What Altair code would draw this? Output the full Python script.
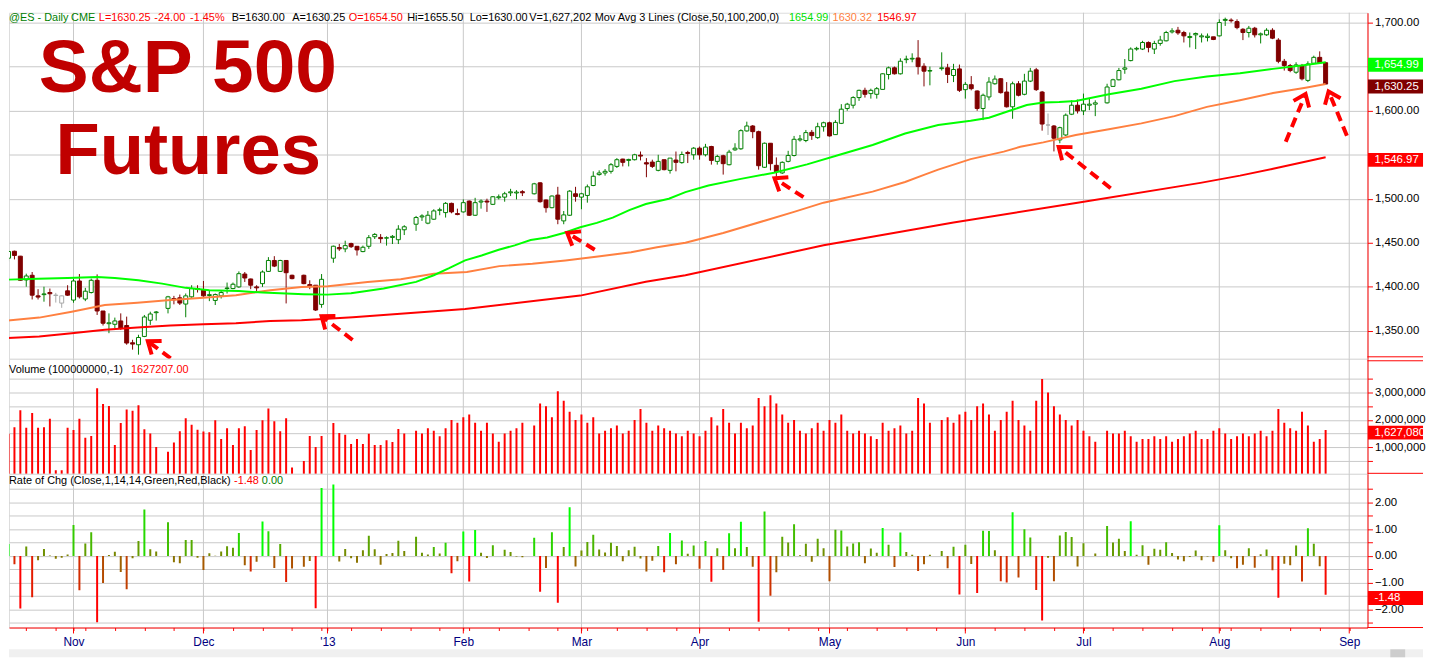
import math
import json
import datetime as dt
import altair as alt
import pandas as pd

# ---------------- data ----------------
OPEN = [
 1432.4,1440.3,1434.7,1407.7,1413.0,1389.6,1391.0,1393.4,1390.0,1381.4,
 1395.3,1384.8,1406.5,1386.0,1393.4,1407.3,1372.4,1358.0,1357.3,1361.1,
 1355.9,1336.3,1334.1,1343.5,1361.9,1370.5,None,1375.4,1386.6,1387.4,
 1380.3,1388.5,1397.9,1396.0,1390.0,1384.4,1389.6,1398.0,1397.9,1399.8,
 1414.4,1408.8,1399.8,1403.5,1417.4,1429.8,1417.4,1429.8,1413.0,None,
 1413.0,1402.4,1401.7,1379.9,None,1432.4,1444.5,1443.0,1449.0,1445.9,
 1439.9,1445.9,1456.8,1456.0,1455.2,1456.0,1453.4,1464.7,None,1471.0,
 1479.3,1472.2,1476.7,1486.8,1484.2,1494.7,1483.1,1485.0,1497.3,1481.2,
 1496.2,1497.3,1493.6,1501.1,1501.8,1506.7,1506.5,1508.0,None,1505.6,
 1518.0,1498.5,1489.8,1504.1,1474.8,1481.2,1505.6,1501.8,1503.7,1515.0,
 1527.4,1529.2,1531.1,1536.7,1545.0,1543.5,1544.3,1549.5,1540.9,1541.6,
 1532.2,1544.3,1532.2,1543.9,1541.0,1552.5,1549.9,1557.4,1549.9,1559.3,
 1542.4,1548.8,1538.6,1555.5,1556.7,1577.0,1582.6,1576.2,1535.7,1563.0,
 1537.9,1529.3,1542.4,1549.1,1566.8,1566.1,1575.4,1569.4,1581.8,1586.3,
 1572.8,1585.6,1602.5,1606.2,1614.9,1623.1,1619.4,1618.6,1624.2,1641.1,
 1648.7,1641.9,1658.0,1658.7,1659.9,1650.5,1645.0,None,1647.8,1648.7,
 1640.0,1647.5,1623.9,1629.5,1622.4,1602.5,1615.6,1630.6,1636.3,1621.2,
 1604.4,1630.6,1618.6,1633.6,1646.4,1621.2,1583.7,1582.6,1566.8,1572.4,
 1596.0,1606.2,1599.8,1606.2,1607.4,None,1608.9,1627.6,1635.1,1647.1,
 1656.9,1670.0,1670.0,1677.5,1670.0,1676.4,1679.4,1689.5,1691.4,1688.8,
 1683.1,1686.2,1683.9,1683.1,1683.9,1685.0,1702.6,1702.9,1701.2,1692.5,
 1688.8,1693.7,1686.2,1686.2,1691.4,1680.2,1656.1,1651.3,1643.7,1651.3,
 1634.4,1653.9,1660.6,1654.5,
]
HIGH = [
 1441.1,1441.0,1435.0,1414.8,1416.7,1397.2,1400.0,1397.9,1393.0,1390.0,
 1401.7,1409.2,1414.4,1398.7,1409.2,1414.0,1372.4,1369.7,1364.9,1369.7,
 1366.0,1339.7,1345.4,1367.9,1371.6,1372.4,None,1389.6,1389.6,1391.1,
 1392.3,1401.7,1401.7,1406.5,1396.0,1392.3,1396.0,1404.7,1404.7,1417.4,
 1416.7,1409.2,1401.7,1418.5,1433.6,1434.7,1430.6,1430.0,1413.7,None,
 1413.7,1407.3,1401.7,1414.4,None,1446.7,1448.6,1452.3,1450.0,1445.9,
 1446.7,1458.7,1460.9,1459.8,1457.2,1458.7,1469.9,1469.9,None,1480.4,
 1482.3,1486.0,1488.0,1489.8,1496.2,1495.5,1488.7,1499.2,1498.0,1501.0,
 1499.2,1500.0,1503.0,1504.8,1507.8,1511.2,1509.7,1509.7,None,1518.0,
 1518.7,1499.2,1503.7,1513.5,1486.0,1509.7,1513.5,1506.7,1516.1,1531.1,
 1532.2,1533.7,1540.5,1546.1,1545.4,1545.4,1551.0,1553.6,1546.1,1544.3,
 1549.9,1544.3,1546.1,1553.6,1553.6,1554.4,1558.6,1559.3,1562.3,1560.1,
 1549.9,1549.9,1555.5,1563.0,1578.8,1587.5,1583.7,1577.3,1563.8,1563.0,
 1546.9,1542.4,1554.4,1571.3,1572.4,1578.1,1578.1,1586.3,1587.5,1587.5,
 1589.3,1607.4,1608.9,1616.4,1623.9,1626.1,1625.0,1626.9,1642.6,1650.1,
 1650.1,1659.5,1662.5,1665.2,1680.2,1653.9,1650.1,None,1666.3,1653.2,
 1653.2,1652.4,1632.5,1639.3,1623.1,1619.4,1638.1,1640.0,1637.0,1632.5,
 1633.0,1633.6,1641.9,1648.6,1648.6,1622.4,1596.8,1583.7,1581.8,1596.8,
 1611.8,1612.6,1619.4,1613.7,1611.8,None,1630.6,1636.3,1648.6,1658.7,
 1671.9,1672.6,1679.4,1678.7,1679.4,1685.0,1690.7,1693.7,1695.2,1690.7,
 1688.8,1688.8,1687.7,1687.7,1683.9,1703.8,1705.7,1704.9,1703.8,1693.7,
 1696.3,1695.2,1688.8,1693.7,1693.7,1682.4,1658.8,1653.1,1655.0,1653.1,
 1656.1,1662.5,1667.4,1655.5,
]
LOW = [
 1428.7,1431.0,1406.5,1400.0,1385.5,1385.5,1383.0,1377.6,1382.0,1376.0,
 1389.6,1381.8,1386.6,1383.6,1392.3,1367.9,1355.9,1347.2,1352.9,1351.0,
 1334.1,1328.5,1322.8,1342.7,1356.6,1361.5,None,1369.7,1380.0,1379.2,
 1365.3,1387.4,1393.4,1388.5,1383.6,1379.2,1386.6,1392.3,1397.2,1398.7,
 1405.4,1397.2,1394.2,1399.8,1416.7,1422.3,1416.7,1381.0,1408.4,None,
 1402.8,1397.2,1372.4,1376.1,None,1427.2,1440.7,1439.2,1444.0,1435.4,
 1439.2,1442.9,1454.2,1449.7,1446.7,1448.5,1448.5,1458.7,None,1463.5,
 1474.8,1471.0,1476.0,1481.2,1478.6,1483.4,1481.2,1484.2,1480.4,1480.4,
 1488.7,1485.0,1492.8,1499.2,1496.6,1503.0,1499.2,1503.0,None,1504.8,
 1495.5,1484.2,1489.1,1471.0,1471.0,1480.4,1496.6,1488.0,1495.5,1514.2,
 1526.2,1526.2,1528.5,1534.9,1536.7,1536.7,1543.5,1543.5,1524.4,1534.9,
 1531.1,1532.2,1528.5,1531.1,1539.8,1540.5,1544.3,1544.3,1548.0,1538.7,
 1538.7,1527.4,1537.9,1554.4,1555.5,1576.2,1568.7,1533.0,1534.9,1532.2,
 1524.8,1528.1,1541.3,1548.0,1564.9,1564.2,1566.8,1568.0,1576.2,1570.6,
 1572.4,1584.8,1599.9,1602.5,1611.1,1614.9,1613.7,1613.7,1623.9,1635.5,
 1641.1,1641.1,1653.9,1655.0,1641.1,1627.6,1628.8,None,1645.6,1631.4,
 1632.5,1621.2,1613.7,1623.1,1599.9,1589.3,1611.8,1629.5,1619.4,1603.6,
 1590.8,1616.3,1617.5,1632.5,1622.4,1577.3,1572.4,1553.7,1563.0,1571.3,
 1595.0,1596.8,1595.0,1600.6,1593.8,None,1608.1,1626.9,1634.4,1641.9,
 1656.1,1668.2,1668.9,1666.3,1664.4,1673.8,1678.7,1687.7,1686.2,1677.5,
 1671.9,1670.0,1677.5,1678.7,1680.2,1684.3,1696.3,1700.1,1692.5,1680.2,
 1683.2,1683.2,1676.4,1685.0,1681.3,1653.9,1645.6,1643.7,1641.9,1634.4,
 1632.5,1653.1,1655.0,1630.0,
]
CLOSE = [
 1440.0,1435.5,1407.3,1412.2,1390.4,1388.2,1391.8,1392.0,1390.5,1389.6,
 1390.4,1406.5,1388.5,1394.9,1407.3,1372.4,1358.5,1359.0,1361.1,1352.9,
 1336.0,1334.8,1342.3,1365.6,1369.0,1371.3,None,1388.5,1385.2,1381.4,
 1389.6,1397.9,1396.9,1389.6,1391.0,1391.1,1393.4,1398.5,1402.8,1414.8,
 1409.9,1401.7,1398.7,1416.7,1429.8,1423.4,1429.8,1415.9,1409.2,None,
 1403.5,1400.9,1373.5,1408.4,None,1446.0,1443.0,1446.7,1445.5,1441.8,
 1444.8,1455.7,1459.4,1454.6,1455.6,1457.2,1465.4,1468.1,None,1478.6,
 1480.4,1481.2,1486.1,1487.4,1494.7,1485.0,1482.0,1495.5,1481.2,1495.5,
 1497.3,1496.2,1502.2,1502.2,1505.6,1507.8,1507.5,1506.7,None,1516.9,
 1496.6,1489.8,1503.0,1476.7,1481.6,1508.6,1502.6,1505.6,1513.5,1525.5,
 1529.2,1531.1,1538.6,1544.3,1541.3,1544.6,1549.9,1548.4,1539.4,1536.7,
 1542.4,1533.0,1546.1,1541.3,1550.2,1551.4,1557.4,1549.9,1558.6,1543.5,
 1548.0,1539.8,1552.9,1557.4,1577.3,1582.6,1576.2,1537.5,1563.0,1539.8,
 1530.4,1541.3,1549.1,1567.5,1567.9,1575.1,1571.7,1581.8,1586.3,1571.3,
 1586.7,1601.7,1607.4,1614.9,1623.1,1618.6,1623.1,1625.0,1641.9,1648.7,
 1641.9,1656.2,1658.7,1659.5,1650.1,1644.9,1645.6,None,1648.7,1641.1,
 1646.8,1623.1,1629.9,1625.0,1602.5,1617.5,1632.5,1635.9,1620.5,1604.4,
 1630.6,1617.5,1633.6,1644.9,1623.9,1584.8,1583.7,1568.7,1580.7,1594.9,
 1606.2,1599.8,1607.4,1607.4,1608.9,None,1626.9,1635.1,1645.6,1648.6,
 1670.0,1670.8,1677.5,1671.9,1676.4,1680.2,1688.8,1690.7,1688.4,1685.0,
 1684.3,1687.7,1685.0,1684.6,1680.9,1700.1,1703.7,1702.2,1694.4,1688.8,
 1693.7,1686.2,1687.3,1691.4,1682.4,1656.1,1651.3,1645.6,1652.0,1636.2,
 1653.1,1660.6,1654.25,1630.25,
]
# daily volume, millions of contracts (None = holiday slot)
VOLUME_M = [
 1.49,1.73,2.35,1.71,2.25,1.71,1.73,2.04,0.16,0.16,
 1.71,1.63,2.04,1.35,1.41,3.16,2.58,2.51,1.08,1.89,
 2.38,2.34,2.54,1.66,1.50,1.01,None,0.84,1.17,1.59,
 2.06,1.82,1.64,1.58,1.55,1.99,1.30,1.70,1.08,1.70,
 1.77,0.90,1.63,1.99,2.42,1.95,1.59,2.06,0.26,None,
 0.50,1.41,1.01,1.41,None,1.89,1.52,1.46,1.12,1.30,
 1.12,1.49,1.08,1.08,1.26,1.19,1.67,1.50,None,1.60,
 1.50,1.70,1.60,1.40,1.70,2.00,1.90,2.10,2.20,1.90,
 1.60,1.90,1.50,1.20,1.50,1.60,1.70,1.90,None,1.80,
 2.60,2.50,2.10,3.05,2.70,2.30,2.00,2.20,1.90,2.10,
 1.50,1.60,1.70,1.80,1.50,1.60,2.00,2.40,1.90,1.60,
 1.80,1.70,1.60,1.50,1.40,1.60,1.50,1.40,1.60,2.10,
 1.80,2.40,1.90,1.50,1.90,1.70,1.80,2.80,2.50,2.90,
 2.60,2.20,1.90,2.00,1.60,1.50,1.70,1.90,1.60,2.00,
 1.90,2.20,1.60,1.50,1.60,1.50,1.40,1.30,1.90,1.60,
 1.70,1.80,1.50,1.60,2.80,2.60,1.90,None,2.00,2.10,
 1.90,2.20,2.30,2.00,2.50,2.60,2.20,1.60,2.00,2.30,
 2.70,2.00,1.80,1.60,2.70,3.50,3.00,2.50,2.20,2.00,
 1.80,2.00,1.60,1.40,1.20,None,1.60,1.50,1.50,1.60,
 1.40,1.20,1.30,1.30,1.40,1.30,1.40,1.20,1.30,1.40,
 1.50,1.60,1.30,1.30,1.60,1.70,1.50,1.30,1.40,1.50,
 1.40,1.50,1.60,1.40,1.60,2.40,1.90,1.70,1.60,2.30,
 1.80,1.20,1.30,1.63,
]
GRAY_BARS = [8, 9, 176]
ROC_FIRST = 0.45          # rate of change of the first bar (its prior close is off-chart)

MA50 = [(-0.4,1408),(5,1409),(10,1410),(15,1411),(18,1410),(22,1407.3),(26,1403.5),(30,1398.7),
        (34,1396),(39,1395),(43,1393.4),(47,1392.3),(50,1391.5),(54,1391),(58,1392.5),(63.5,1398),
        (69,1405.5),(72,1413),(74.6,1421),(77.3,1430),(80.1,1435.5),(83,1442),(85.7,1447),(88.4,1453),
        (91.2,1456),(94,1461),(96.8,1467.5),(99.6,1472.5),(102.3,1478.5),(105.1,1487),(107.9,1494),
        (111.8,1500),(114.6,1507.5),(118.5,1515),(124,1522.5),(129.6,1529.5),(135.2,1539),
        (140.7,1550),(146.3,1561),(151.8,1574),(157.4,1583.7),(162.9,1588.6),(166,1592),(170,1601),
        (172.4,1606.5),(175.2,1609.2),(177.9,1609.8),(180.7,1611.1),(186.3,1618.6),(191.8,1625),
        (197.4,1633.6),(202.9,1638.9),(208.5,1642.6),(214.1,1647.5),(219.6,1652),(223,1655)]
MA100 = [(-0.4,1361.5),(5.2,1364.9),(10.7,1371.6),(16.3,1379.2),(21.8,1381.8),(27.4,1384.8),
         (33,1387.4),(38.5,1390.4),(44.3,1396),(49.6,1399.7),(54.1,1400.5),(60.8,1405.4),
         (66.4,1408.4),(72,1414.7),(77.6,1416.6),(83.1,1423.4),(88.7,1426),(94.3,1429.8),
         (99.8,1434.3),(105.4,1439.1),(109.8,1444.8),(114.6,1450),(121,1461),(128,1475),(133,1485),
         (138,1495.5),(146.3,1508),(151.8,1519),(155,1527),(157.4,1533),(162.9,1545),(168.5,1553.5),
         (171.3,1559),(175.2,1564),(180.7,1572.4),(186.3,1578.8),(191.8,1585.6),(197.4,1593.8),
         (202.9,1604.3),(208.5,1611.8),(214.1,1620.1),(219.6,1626.1),(223,1630.3)]
MA200 = [(-0.4,1341.6),(5.2,1343.5),(10.7,1347.2),(16.3,1351),(21.8,1353.6),(27.4,1355.9),
         (33,1357.4),(38.5,1358.5),(44.3,1361.1),(49.6,1362),(55.4,1364.1),(58.3,1365.3),
         (77.3,1374.8),(96.8,1389.9),(107.9,1405.7),(114.6,1413),(138,1447),(160,1473),
         (181,1495.5),(201.8,1518),(208.5,1526.2),(214.1,1534),(223,1547)]

MONTH_LABELS = ["Nov", "Dec", "'13", "Feb", "Mar", "Apr", "May", "Jun", "Jul", "Aug", "Sep"]

HEADER = [("@ES - Daily", 1.4, "#008000"), ("CME", 64, "#008000"), ("L=1630.25", 92, "#FF0000"),
          ("-24.00", 148, "#FF0000"), ("-1.45%", 184, "#FF0000"), ("B=1630.00", 226, "#000000"),
          ("A=1630.25", 287, "#000000"), ("O=1654.50", 344, "#FF0000"), ("Hi=1655.50", 403, "#000000"),
          ("Lo=1630.00", 466, "#000000"), ("V=1,627,202", 526, "#000000"),
          ("Mov Avg 3 Lines (Close,50,100,200,0)", 592, "#000000"),
          ("1654.99", 788, "#00E000"), ("1630.32", 832, "#FF8040"), ("1546.97", 877, "#FF0000")]

# annotation arrows: (tail bar, tail price, head bar, head price)
ARROWS = [(29.6, 1308.0, 23.58, 1338.0), (58.25, 1339.5, 53.0, 1366.6), (99.25, 1442.0, 94.6, 1461.2),
          (134.6, 1501.7, 129.7, 1523.1), (186.6, 1511.9, 177.8, 1558.8), (216.25, 1564.8, 219.6, 1618.9),
          (226.6, 1571.6, 223.5, 1621.9)]

PRICE_TAGS = [(1654.99, "1,654.99", "#00FF00"), (1630.25, "1,630.25", "#800000"), (1546.97, "1,546.97", "#FF0000")]
VOL_TAG = (1627080, "1,627,080", "#FF0000")
ROC_TAG = (-1.48, "-1.48", "#FF0000")

# ---------------- layout ----------------
FONT = "Liberation Sans"
W = 1370
H_P, H_V, H_R = 349, 116, 155
XDOM = [0.9167, 0.9167 + W / 6.0]
PDOM = [1318.1, 1711.3]
VDOM = [29000, 4236000]
RDOM = [-2.674, 3.067]
GRID = "#C8C8C8"
RED = "#FF0000"

# weekday slots (Good Friday 2013 has no slot)
slots = []
d = dt.date(2012, 10, 17)
while d <= dt.date(2013, 9, 6):
    if d.weekday() < 5 and d != dt.date(2013, 3, 29):
        slots.append(d)
    d += dt.timedelta(days=1)
assert len(OPEN) == len(HIGH) == len(LOW) == len(CLOSE) == len(VOLUME_M) == 224
month_idx, seen = [], set()
for k, dd in enumerate(slots):
    if (dd.year, dd.month) not in seen:
        seen.add((dd.year, dd.month))
        if k > 0:
            month_idx.append(k)
month_idx = month_idx[:len(MONTH_LABELS)]
monday_idx = [k for k, dd in enumerate(slots) if dd.weekday() == 0 and k < XDOM[1]]
tick_vals = sorted(set(monday_idx + month_idx))

# ---------------- frames ----------------
rows, vrows, rrows = [], [], []
prev = None
rocs = []
for i in range(224):
    if CLOSE[i] is None:
        continue
    gray = i in GRAY_BARS
    up = CLOSE[i] >= OPEN[i]
    stroke = "#A8A8A8" if gray else ("#008000" if up else "#800000")
    fill = "#FFFFFF" if (gray or up) else "#800000"
    rows.append(dict(i=i, o=OPEN[i], h=HIGH[i], l=LOW[i], c=CLOSE[i], stroke=stroke, fill=fill))
    if VOLUME_M[i] is not None:
        vrows.append(dict(i=i, v=VOLUME_M[i] * 1e6))
    r = ROC_FIRST if prev is None else (CLOSE[i] - prev) / prev * 100.0
    prev = CLOSE[i]
    rocs.append((i, r))
for k, (i, r) in enumerate(rocs):
    window = [abs(x[1]) for x in rocs[max(0, k - 13):k + 1]]
    m = max(window) or 1.0
    t = (r / m + 1) / 2
    col = "#%02x%02x00" % (round(255 * (1 - t)), round(255 * t))
    rrows.append(dict(i=i, r=r, col=col))
cdf = pd.DataFrame(rows)
vdf = pd.DataFrame(vrows)
rdf = pd.DataFrame(rrows)
mdf = pd.DataFrame({"i": month_idx})
ma_rows = []
for name, pts, col in (("ma200", MA200, "#FF0000"), ("ma100", MA100, "#FF8040"), ("ma50", MA50, "#00FF00")):
    for i, v in pts:
        ma_rows.append(dict(s=name, i=i, v=v, col=col))
madf = pd.DataFrame(ma_rows)

ppx = H_P / (PDOM[1] - PDOM[0])
arows = []
for ti, tp, hi, hp in ARROWS:
    dx = (hi - ti) * 6.0
    dy = -(hp - tp) * ppx
    ang = (math.degrees(math.atan2(dy, dx)) - 180.0) % 360.0
    arows.append(dict(ti=ti, tp=tp, hi=hi, hp=hp, ang=ang))
adf = pd.DataFrame(arows)


def tag_frame(tags, units_per_px):
    out = []
    for v, lab, bg in tags:
        yc = v - 2.5 * units_per_px
        out.append(dict(ym=yc, y1=yc + 7 * units_per_px, y2=yc - 7 * units_per_px, label=lab, bg=bg))
    return pd.DataFrame(out)


ptag = tag_frame(PRICE_TAGS, 1 / ppx)
vtag = tag_frame([VOL_TAG], (VDOM[1] - VDOM[0]) / H_V)
rtag = tag_frame([ROC_TAG], (RDOM[1] - RDOM[0]) / H_R)
ONE = pd.DataFrame({"k": [0]})

# ---------------- encodings ----------------
XS = alt.Scale(domain=XDOM, nice=False, zero=False)
X = alt.X("i:Q", scale=XS, axis=None)
mi = json.dumps(month_idx)
lab_expr = "indexof(%s, datum.value) >= 0 ? %s[indexof(%s, datum.value)] : ''" % (mi, json.dumps(MONTH_LABELS), mi)
XB = alt.X("i:Q", scale=XS, axis=alt.Axis(values=tick_vals, labelExpr=lab_expr, title=None, grid=False,
                                          domainColor=RED, domainWidth=1, tickColor=RED, tickSize=3,
                                          labelColor="#000080", labelFontSize=12, labelFont=FONT,
                                          labelPadding=6, labelOverlap=False, labelFlush=False, labelBound=False))


def raxis(values, fmt=None, expr=None):
    kw = dict(orient="right", values=values, title=None, grid=True, gridColor=GRID, gridWidth=1,
              domainColor=RED, domainWidth=1, tickColor=RED, tickSize=5, labelColor="#000000",
              labelFontSize=11.5, labelFont=FONT, labelPadding=2, labelOverlap=False)
    if fmt:
        kw["format"] = fmt
    if expr:
        kw["labelExpr"] = expr
    return alt.Axis(**kw)


# 1,650 and 1,550 sit under the value tags in the reference, so they carry no label
PA = raxis(list(range(1350, 1701, 50)),
           expr="(datum.value == 1650 || datum.value == 1550) ? '' : format(datum.value, ',.2f')")
VA = raxis([500000 * k for k in range(1, 8)], expr="datum.value % 1000000 === 0 ? format(datum.value, ',') : ''")
RA = raxis([k / 2 for k in range(-5, 6)], expr="datum.value % 1 === 0 ? format(datum.value, '.2f') : ''")
PS = alt.Scale(domain=PDOM, nice=False, zero=False)
VS = alt.Scale(domain=VDOM, nice=False, zero=False)
RS = alt.Scale(domain=RDOM, nice=False, zero=False)


def txt(x, y, text, color, size=11, weight="normal", baseline="middle"):
    return alt.Chart(ONE).mark_text(align="left", baseline=baseline, fontSize=size, fontWeight=weight,
                                    font=FONT, color=color, text=text, clip=False).encode(
        x=alt.value(x), y=alt.value(y))


def hrule(y, color=RED, x0=W, x1=W + 56):
    return alt.Chart(ONE).mark_rule(color=color, strokeWidth=1, clip=False).encode(
        x=alt.value(x0), x2=alt.value(x1), y=alt.value(y))


# ---------------- price panel ----------------
grid_p = alt.Chart(mdf).mark_rule(color=GRID, strokeWidth=1).encode(x=X)
wicks = alt.Chart(cdf).mark_rule(strokeWidth=1, clip=True).encode(
    x=X, y=alt.Y("l:Q", scale=PS, axis=PA), y2="h:Q", color=alt.Color("stroke:N", scale=None))
bodies = alt.Chart(cdf).mark_bar(width=4, strokeWidth=1, clip=True).encode(
    x=X, y=alt.Y("o:Q", scale=PS, axis=PA), y2="c:Q",
    fill=alt.Fill("fill:N", scale=None), stroke=alt.Stroke("stroke:N", scale=None))
mas = alt.Chart(madf).mark_line(strokeWidth=2, clip=True).encode(
    x=X, y=alt.Y("v:Q", scale=PS, axis=PA), color=alt.Color("col:N", scale=None), detail="s:N")
arrow_line = alt.Chart(adf).mark_rule(color=RED, strokeWidth=4, strokeDash=[10, 6], clip=True).encode(
    x=alt.X("ti:Q", scale=XS, axis=None), y=alt.Y("tp:Q", scale=PS, axis=PA), x2="hi:Q", y2="hp:Q")
arrow_head = alt.Chart(adf).mark_point(shape="M 1.3 -1 L 0 0 L 1.3 1", size=289, filled=False,
                                       strokeWidth=4, color=RED, opacity=1, strokeJoin="miter",
                                       clip=True).encode(
    x=alt.X("hi:Q", scale=XS, axis=None), y=alt.Y("hp:Q", scale=PS, axis=PA),
    angle=alt.Angle("ang:Q", scale=None))
ptag_rect = alt.Chart(ptag).mark_rect(clip=False).encode(
    x=alt.value(W + 0.5), x2=alt.value(W + 56), y=alt.Y("y1:Q", scale=PS, axis=PA), y2="y2:Q",
    color=alt.Color("bg:N", scale=None))
ptag_text = alt.Chart(ptag).mark_text(align="left", baseline="middle", fontSize=11.5, font=FONT,
                                      color="#FFFFFF", clip=False).encode(
    x=alt.value(W + 7), y=alt.Y("ym:Q", scale=PS, axis=PA), text="label:N")
header = [txt(x - 1.4, 5, t, c) for t, x, c in HEADER]
title = [txt(30, 80, "S&P 500", "#C00000", size=75.5, weight="bold", baseline="alphabetic"),
         txt(47, 163, "Futures", "#C00000", size=73, weight="bold", baseline="alphabetic")]
price = alt.layer(grid_p, wicks, bodies, mas, arrow_line, arrow_head, ptag_rect, ptag_text,
                  *header, *title, hrule(H_P - 2)).properties(width=W, height=H_P)

# ---------------- volume panel ----------------
grid_v = alt.Chart(mdf).mark_rule(color=GRID, strokeWidth=1).encode(x=X)
vbars = alt.Chart(vdf).mark_bar(width=2, color=RED, clip=True).encode(
    x=X, y=alt.Y("v:Q", scale=VS, axis=VA), y2=alt.datum(0))
vtag_rect = alt.Chart(vtag).mark_rect(clip=False).encode(
    x=alt.value(W + 0.5), x2=alt.value(W + 56), y=alt.Y("y1:Q", scale=VS, axis=VA), y2="y2:Q",
    color=alt.Color("bg:N", scale=None))
vtag_text = alt.Chart(vtag).mark_text(align="left", baseline="middle", fontSize=11.5, font=FONT,
                                      color="#FFFFFF", clip=False).encode(
    x=alt.value(W + 7), y=alt.Y("ym:Q", scale=VS, axis=VA), text="label:N")
volume = alt.layer(grid_v, vbars, vtag_rect, vtag_text,
                   txt(0, 11, "Volume (100000000,-1)", "#000000"), txt(123, 11, "1627207.00", RED),
                   hrule(2), hrule(H_V - 0.5)).properties(width=W, height=H_V)

# ---------------- rate of change panel ----------------
grid_r = alt.Chart(mdf).mark_rule(color=GRID, strokeWidth=1).encode(x=XB)
rbars = alt.Chart(rdf).mark_bar(width=2, clip=True).encode(
    x=XB, y=alt.Y("r:Q", scale=RS, axis=RA), y2=alt.datum(0), color=alt.Color("col:N", scale=None))
rtag_rect = alt.Chart(rtag).mark_rect(clip=False).encode(
    x=alt.value(W + 0.5), x2=alt.value(W + 56), y=alt.Y("y1:Q", scale=RS, axis=RA), y2="y2:Q",
    color=alt.Color("bg:N", scale=None))
rtag_text = alt.Chart(rtag).mark_text(align="left", baseline="middle", fontSize=11.5, font=FONT,
                                      color="#FFFFFF", clip=False).encode(
    x=alt.value(W + 7), y=alt.Y("ym:Q", scale=RS, axis=RA), text="label:N")
month_ticks = alt.Chart(mdf).mark_rule(color=RED, strokeWidth=1, clip=False).encode(
    x=XB, y=alt.value(H_R), y2=alt.value(H_R + 6))
scroll = alt.Chart(ONE).mark_rect(color="#F0F0F0", clip=False).encode(
    x=alt.value(0), x2=alt.value(W + 56), y=alt.value(H_R + 22), y2=alt.value(H_R + 30))
thumb = alt.Chart(ONE).mark_rect(color="#CDCDCD", clip=False).encode(
    x=alt.value(1393), x2=alt.value(1408), y=alt.value(H_R + 22), y2=alt.value(H_R + 30))
roc = alt.layer(grid_r, rbars, rtag_rect, rtag_text, month_ticks, scroll, thumb,
                txt(0, 7, "Rate of Chg (Close,1,14,14,Green,Red,Black)", "#000000"),
                txt(227, 7, "-1.48", RED), txt(255, 7, "0.00", "#008000"),
                hrule(H_R)).properties(width=W, height=H_R)

chart = alt.vconcat(price, volume, roc, spacing=0, bounds="flush").properties(
    padding=0, background="#FFFFFF").configure_view(stroke=None).configure(font=FONT)

chart.save("out.html", embed_options={"renderer": "svg", "actions": False})
